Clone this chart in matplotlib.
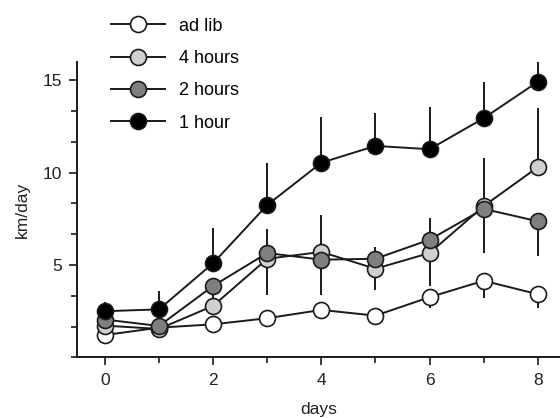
import matplotlib

matplotlib.use("Agg")

import matplotlib.pyplot as plt
from matplotlib.ticker import MultipleLocator

days = [0, 1, 2, 3, 4, 5, 6, 7, 8]

ad_lib = [1.21, 1.61, 1.79, 2.12, 2.57, 2.26, 3.26, 4.15, 3.42]
hours_4 = [1.72, 1.54, 2.79, 5.34, 5.71, 4.80, 5.65, 8.19, 10.3]
hours_2 = [2.05, 1.70, 3.87, 5.65, 5.29, 5.34, 6.37, 8.04, 7.37]
hour_1 = [2.50, 2.60, 5.10, 8.25, 10.54, 11.45, 11.27, 12.95, 14.92]

# one-sided error bars, as drawn in the figure
ad_lib_err_down = [0.2, 0.2, 0.2, 0.2, 0.35, 0.35, 0.6, 0.95, 0.75]
hours_4_err_up = [0.2, 0.2, 1.0, 1.6, 2.0, 1.2, 1.9, 2.6, 3.2]
hours_2_err_down = [0.2, 0.2, 1.0, 2.26, 1.9, 1.68, 2.53, 2.4, 1.9]
hour_1_err_up = [0.5, 1.0, 1.9, 2.25, 2.45, 1.8, 2.3, 1.95, 1.15]

labels = ["ad lib", "4 hours", "2 hours", "1 hour"]
fills = ["white", "#d0d0d0", "#7f7f7f", "black"]
INK = "#1a1a1a"
TEXT = "#222222"

plt.rcParams["font.family"] = ["Liberation Sans", "DejaVu Sans"]

fig = plt.figure(figsize=(5.6, 4.18), dpi=100)
ax = fig.add_axes([0.138, 0.145, 0.862, 0.707])

series = [
    (ad_lib, [ad_lib_err_down, [0] * 9]),
    (hours_4, [[0] * 9, hours_4_err_up]),
    (hours_2, [hours_2_err_down, [0] * 9]),
    (hour_1, [[0] * 9, hour_1_err_up]),
]

handles = []
for (values, err), label, fill in zip(series, labels, fills):
    ax.errorbar(days, values, yerr=err, fmt="none", ecolor=INK,
                elinewidth=1.4, capsize=0, zorder=2)
    (h,) = ax.plot(days, values, "-o", color=INK, lw=1.4, ms=11.5,
                   mfc=fill, mec=INK, mew=1.2, label=label, zorder=3)
    handles.append(h)

ax.set_xlim(-0.51, 8.41)
ax.set_ylim(0, 16)
ax.xaxis.set_major_locator(MultipleLocator(2))
ax.xaxis.set_minor_locator(MultipleLocator(1))
ax.yaxis.set_minor_locator(MultipleLocator(5 / 3))
ax.set_yticks([5, 10, 15])

for side in ("top", "right"):
    ax.spines[side].set_visible(False)
for side in ("left", "bottom"):
    ax.spines[side].set_linewidth(1.4)
    ax.spines[side].set_color(INK)

ax.tick_params(which="both", direction="out", colors=INK, width=1.2,
               labelsize=12.5, labelcolor=TEXT)
ax.tick_params(which="major", length=6, pad=5)
ax.tick_params(which="minor", length=4)

ax.set_xlabel("days", fontsize=12.5, color=TEXT, labelpad=10)
ax.set_ylabel("km/day", fontsize=12.5, color=TEXT, labelpad=9)

fig.legend(handles=handles, loc="upper left", bbox_to_anchor=(0.185, 0.975),
           frameon=False, fontsize=13, handlelength=3.0, labelspacing=0.85,
           handletextpad=0.8, borderaxespad=0)

fig.savefig("out.png", dpi=100)
